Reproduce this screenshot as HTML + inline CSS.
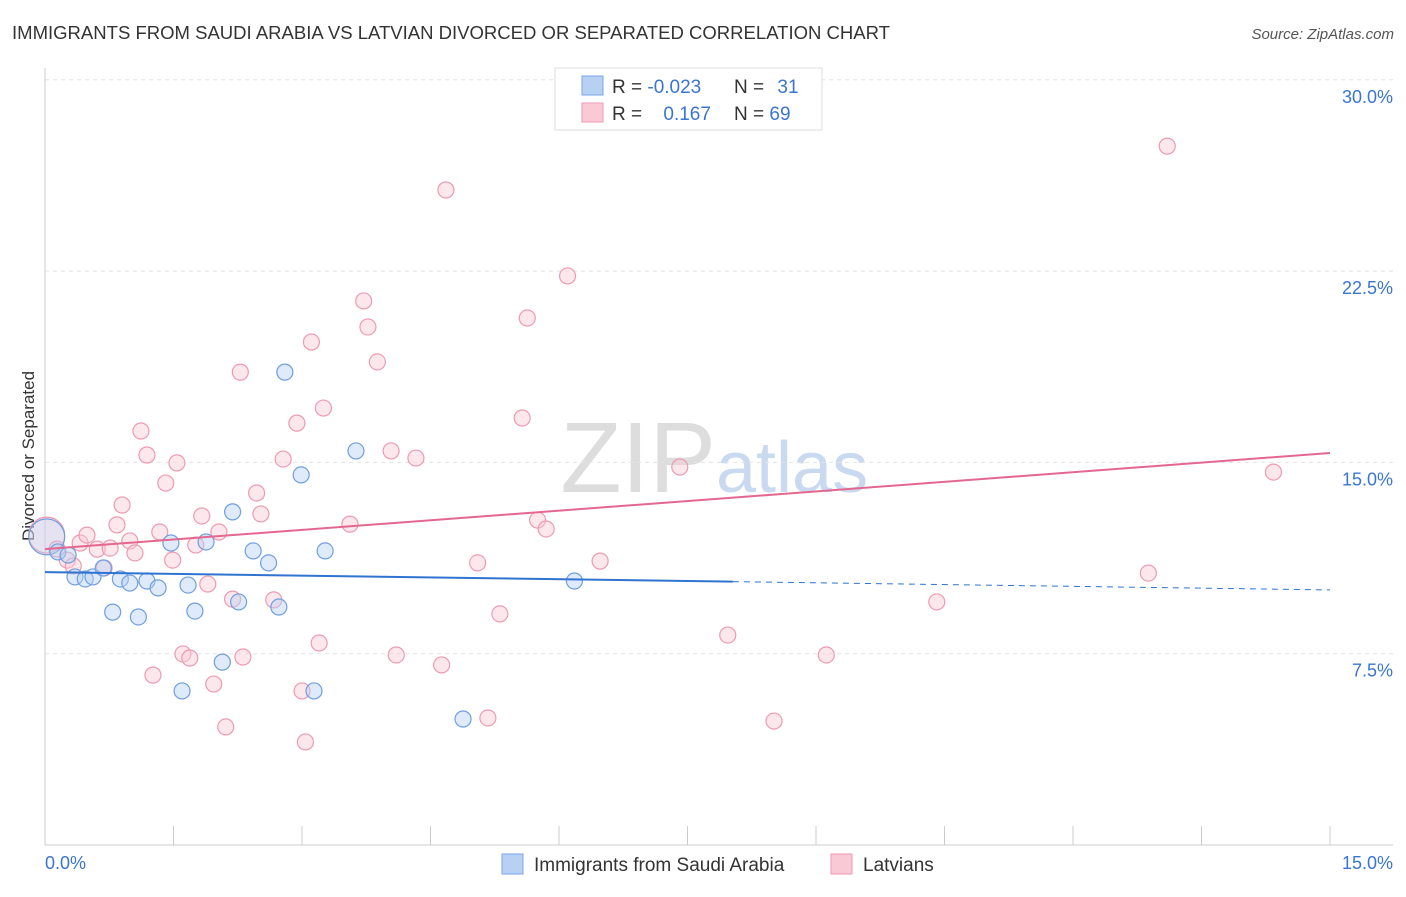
<!DOCTYPE html>
<html><head><meta charset="utf-8"><style>
body{margin:0;background:#fff;font-family:"Liberation Sans",sans-serif;}
svg text{font-family:"Liberation Sans",sans-serif;}
</style></head><body>
<svg id="chart" width="1406" height="892" xmlns="http://www.w3.org/2000/svg">
<text x="12" y="39" font-size="18" fill="#333" textLength="878" lengthAdjust="spacingAndGlyphs">IMMIGRANTS FROM SAUDI ARABIA VS LATVIAN DIVORCED OR SEPARATED CORRELATION CHART</text>
<text x="1394" y="39" font-size="15" fill="#555" font-style="italic" text-anchor="end">Source: ZipAtlas.com</text>
<text x="716" y="492" font-size="100" fill="#ddd" text-anchor="end" font-family="Liberation Serif">ZIP</text>
<text x="716" y="492" font-size="72" fill="#c9d9f0">atlas</text>
<g id="grid"></g>
<line x1="45" y1="68" x2="45" y2="845" stroke="#ccc"/>
<line x1="45" y1="845" x2="1393" y2="845" stroke="#ccc"/>
<text transform="translate(34,456) rotate(-90)" font-size="17" fill="#333" text-anchor="middle">Divorced or Separated</text>
<text x="45" y="869" font-size="18" fill="#3a75d0">0.0%</text>
<text x="1393" y="869" font-size="18" fill="#3a75d0" text-anchor="end">15.0%</text>
<g id="marks"></g>
<g>
<rect x="555" y="68" width="267" height="62" fill="#fff" stroke="#ddd"/>
<rect x="582" y="76" width="21" height="19" fill="#b8d1f3" stroke="#7aa6e6"/>
<rect x="582" y="103" width="21" height="19" fill="#f9c9d6" stroke="#ee9ab3"/>
<text x="612" y="93" font-size="19" fill="#333">R = <tspan fill="#3a75d0">-0.023</tspan></text>
<text x="734" y="93" font-size="19" fill="#333">N = <tspan fill="#3a75d0" dx="8">31</tspan></text>
<text x="612" y="120" font-size="19" fill="#333">R = <tspan fill="#3a75d0" dx="16">0.167</tspan></text>
<text x="734" y="120" font-size="19" fill="#333">N = <tspan fill="#3a75d0">69</tspan></text>
</g>
<g>
<rect x="502" y="854" width="21" height="20" fill="#b8d1f3" stroke="#7aa6e6"/>
<text x="534" y="871" font-size="19" fill="#333">Immigrants from Saudi Arabia</text>
<rect x="831" y="854" width="21" height="20" fill="#f9c9d6" stroke="#ee9ab3"/>
<text x="863" y="871" font-size="19" fill="#333">Latvians</text>
</g>
</svg>
<script>
const yTicks=[7.5,15,22.5,30];
const xTicks=[0,1.5,3,4.5,6,7.5,9,10.5,12,13.5,15];
const blueX=[0.02,0.15,0.27,0.35,0.47,0.56,0.68,0.79,0.88,0.99,1.09,1.19,1.32,1.47,1.60,1.67,1.75,1.88,2.07,2.19,2.26,2.43,2.61,2.73,2.80,2.99,3.14,3.27,3.63,4.88,6.18];
const blueY=[12.08,11.49,11.37,10.51,10.43,10.51,10.86,9.13,10.43,10.27,8.94,10.35,10.08,11.84,6.04,10.19,9.17,11.88,7.17,13.06,9.53,11.53,11.06,9.33,18.54,14.51,6.04,11.53,15.45,4.94,10.35];
const pinkX=[0.02,0.14,0.26,0.33,0.41,0.49,0.61,0.69,0.76,0.84,0.90,0.99,1.05,1.12,1.19,1.26,1.34,1.41,1.49,1.54,1.61,1.69,1.76,1.83,1.90,1.97,2.03,2.11,2.19,2.28,2.31,2.47,2.52,2.67,2.78,2.94,3.00,3.04,3.11,3.20,3.25,3.56,3.72,3.77,3.88,4.04,4.10,4.33,4.63,4.68,5.05,5.17,5.31,5.57,5.63,5.75,5.85,6.10,6.48,7.41,7.97,8.51,9.12,10.41,12.88,13.10,14.34];
const pinkY=[12.15,11.60,11.17,10.94,11.84,12.15,11.60,10.86,11.64,12.55,13.33,11.92,11.45,16.23,15.29,6.66,12.27,14.19,11.17,14.98,7.49,7.33,11.76,12.90,10.23,6.31,12.27,4.63,9.64,18.54,7.37,13.80,12.98,9.61,15.13,16.54,6.04,4.04,19.72,7.92,17.13,12.58,21.33,20.31,18.94,15.45,7.45,15.17,7.06,25.68,11.06,4.98,9.06,16.74,20.66,12.74,12.39,22.31,11.13,14.82,8.23,4.86,7.45,9.53,10.66,27.40,14.62];
const blueTrend=[10.70,10.00];
const pinkTrend=[11.60,15.37];
const NS='http://www.w3.org/2000/svg';
const sx=v=>45+v/15*1285;
const sy=v=>845-v/7.5*191.3;
const grid=document.getElementById('grid'),marks=document.getElementById('marks');
function mk(tag,at,parent){const e=document.createElementNS(NS,tag);for(const k in at)e.setAttribute(k,at[k]);parent.appendChild(e);return e;}
yTicks.forEach(t=>{
 const l=mk('line',{x1:45,x2:1393,y1:sy(t),y2:sy(t),stroke:'#e4e4e4','stroke-dasharray':'4,4'},grid);
 
 
 const tx=mk('text',{x:1393,y:sy(t)+23,'font-size':18,fill:'#3a75d0','text-anchor':'end'},grid);
 tx.textContent=t.toFixed(1)+'%';
 
 
});
xTicks.forEach(t=>{
 const l=mk('line',{x1:sx(t),x2:sx(t),y1:826,y2:845,stroke:'#ccc'},grid);
 
 
});
function dots(xs,ys,fill,stroke,name){
 xs.forEach((x,i)=>{
  const big=i===0;
  const c=mk('circle',{cx:sx(x),cy:sy(ys[i]),r:big?18:8,fill:fill,'fill-opacity':big?0.35:0.45,stroke:stroke,'stroke-width':1.2},marks);
  
  
 });
}
dots(pinkX,pinkY,'#f9c9d6','#ee9ab3','latvian-point');
dots(blueX,blueY,'#b8d1f3','#6f9fe0','saudi-point');
const split=8.03;
const bMid=blueTrend[0]+(blueTrend[1]-blueTrend[0])*(split/15);
const b1=mk('line',{x1:sx(0),y1:sy(blueTrend[0]),x2:sx(split),y2:sy(bMid),stroke:'#2f74d0','stroke-width':2},marks);


const b2=mk('line',{x1:sx(split),y1:sy(bMid),x2:sx(15),y2:sy(blueTrend[1]),stroke:'#2f74d0','stroke-width':1,'stroke-dasharray':'6,5'},marks);


const p1=mk('line',{x1:sx(0),y1:sy(pinkTrend[0]),x2:sx(15),y2:sy(pinkTrend[1]),stroke:'#e4678f','stroke-width':2},marks);


</script>
</body></html>
